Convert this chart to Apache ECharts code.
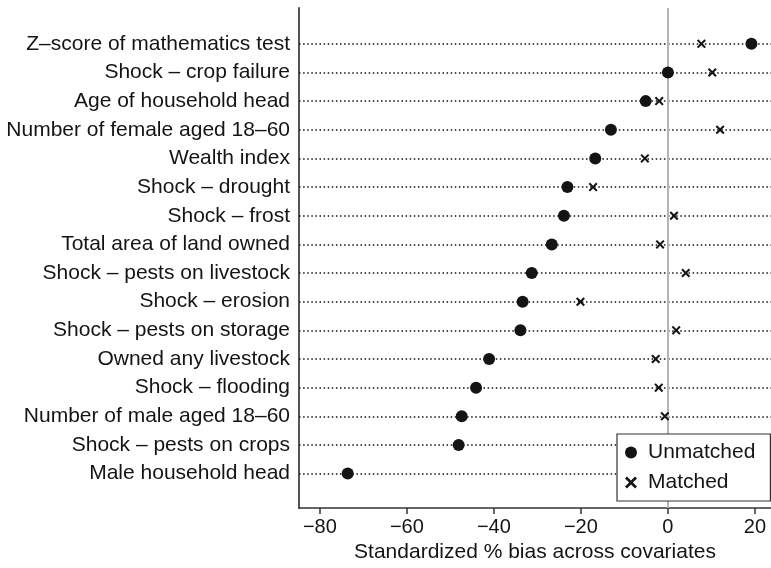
<!DOCTYPE html>
<html>
<head>
<meta charset="utf-8">
<style>
  html, body { margin: 0; padding: 0; background: #fff; }
  #chart { width: 771px; height: 568px; }
</style>
<script src="https://cdn.jsdelivr.net/npm/echarts@6/dist/echarts.min.js"></script>
</head>
<body>
<div id="chart"></div>
<script>
// Covariates, top to bottom
const covariates = [
  'Z\u2013score of mathematics test',
  'Shock \u2013 crop failure',
  'Age of household head',
  'Number of female aged 18\u201360',
  'Wealth index',
  'Shock \u2013 drought',
  'Shock \u2013 frost',
  'Total area of land owned',
  'Shock \u2013 pests on livestock',
  'Shock \u2013 erosion',
  'Shock \u2013 pests on storage',
  'Owned any livestock',
  'Shock \u2013 flooding',
  'Number of male aged 18\u201360',
  'Shock \u2013 pests on crops',
  'Male household head'
];

// Standardized % bias before matching
const unmatched = [19.2, 0.0, -5.1, -13.1, -16.7, -23.1, -23.9, -26.7, -31.3, -33.4, -33.9, -41.1, -44.1, -47.4, -48.1, -73.6];

// Standardized % bias after matching
const matched = [7.7, 10.2, -2.0, 12.0, -5.3, -17.2, 1.4, -1.8, 4.1, -20.1, 1.9, -2.8, -2.1, -0.7, 1.0, -0.5];

// X axis ticks
const xTicks = [-80, -60, -40, -20, 0, 20];

const FONT = '"Liberation Sans", Arial, Helvetica, sans-serif';
const INK = '#141414';
const CROSS = 'path://M1.6,0 L5,3.4 L8.4,0 L10,1.6 L6.6,5 L10,8.4 L8.4,10 L5,6.6 L1.6,10 L0,8.4 L3.4,5 L0,1.6 Z';

const rowIdx = covariates.map((_, i) => i);
const minus = v => (v < 0 ? '\u2212' + Math.abs(v) : String(v));

const chart = echarts.init(document.getElementById('chart'), null, { renderer: 'canvas' });

chart.setOption({
  animation: false,
  backgroundColor: '#fff',
  textStyle: { fontFamily: FONT, color: INK },
  grid: { left: 299, right: 0, top: 8, bottom: 60, containLabel: false },
  xAxis: {
    type: 'value',
    min: -84.8,
    max: 23.7,
    name: 'Standardized % bias across covariates',
    nameLocation: 'middle',
    nameGap: 32,
    nameTextStyle: { fontFamily: FONT, fontSize: 21, color: INK },
    axisLine: { show: true, onZero: false, lineStyle: { color: '#333', width: 1.5 } },
    axisTick: { show: true, length: 6, customValues: xTicks, lineStyle: { color: '#333', width: 1.5 } },
    axisLabel: { customValues: xTicks, margin: 9, fontSize: 20, fontFamily: FONT, color: INK, formatter: minus },
    splitLine: { show: false }
  },
  yAxis: {
    type: 'value',
    inverse: true,
    min: -1.25,
    max: 16.2,
    axisLine: { show: true, onZero: false, lineStyle: { color: '#555', width: 2 } },
    axisTick: { show: false },
    axisLabel: {
      customValues: rowIdx,
      margin: 9,
      fontSize: 21,
      fontFamily: FONT,
      color: INK,
      formatter: v => covariates[v] || ''
    },
    splitLine: { show: false }
  },
  legend: {
    orient: 'vertical',
    left: 617,
    top: 434,
    z: 10,
    padding: [8, 15, 8, 8],
    itemGap: 9,
    itemWidth: 12,
    itemHeight: 12,
    backgroundColor: '#fff',
    borderColor: '#333',
    borderWidth: 1.2,
    borderRadius: 0,
    textStyle: { fontFamily: FONT, fontSize: 21, color: INK, lineHeight: 21, padding: [0, 0, 0, 6] },
    data: [
      { name: 'Unmatched', icon: 'circle', itemStyle: { color: INK } },
      { name: 'Matched', icon: CROSS, itemStyle: { color: INK } }
    ]
  },
  series: [
    {
      name: 'Unmatched',
      type: 'scatter',
      z: 2,
      symbol: 'circle',
      symbolSize: 12,
      itemStyle: { color: INK, opacity: 1 },
      data: unmatched.map((v, i) => [v, i]),
      markLine: {
        silent: true,
        symbol: ['none', 'none'],
        label: { show: false },
        animation: false,
        z: 1,
        data: [
          ...rowIdx.map(i => ({ yAxis: i, lineStyle: { color: '#111', width: 1.5, type: [1.5, 2.6] } })),
          { xAxis: 0, lineStyle: { color: '#b4b4b4', width: 2, type: 'solid' } }
        ]
      }
    },
    {
      name: 'Matched',
      type: 'scatter',
      z: 2,
      symbol: CROSS,
      symbolSize: 9,
      itemStyle: { color: INK, opacity: 1 },
      data: matched.map((v, i) => [v, i])
    }
  ]
});
</script>
</body>
</html>
